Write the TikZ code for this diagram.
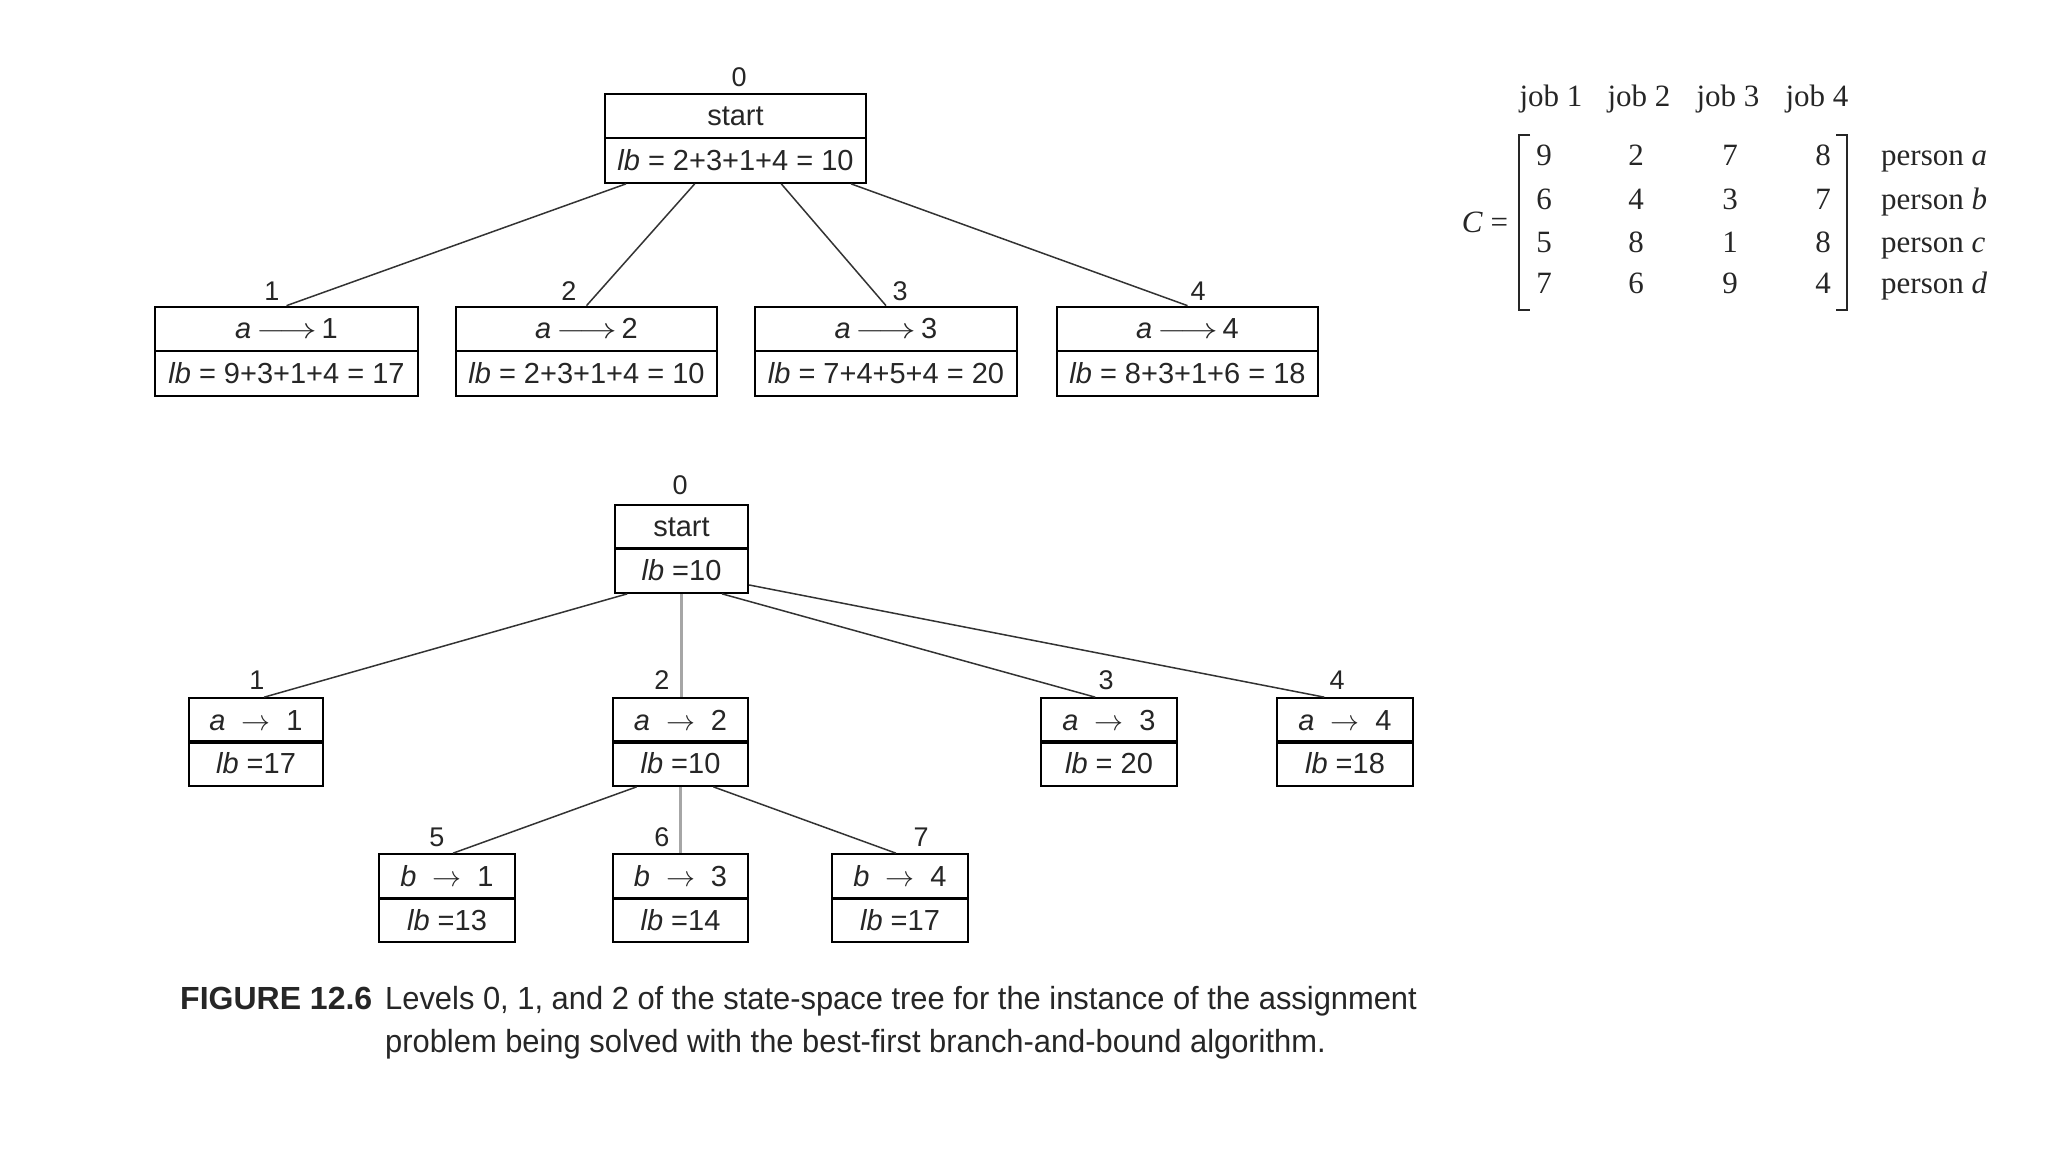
\RequirePackage{fix-cm}
\documentclass[tikz,border=0pt]{standalone}
\usepackage{fontspec}
\setmainfont{Liberation Sans}
\newfontfamily\mserif{Liberation Serif}
\newfontfamily\capnarrow[FakeStretch=0.965]{Liberation Sans}
\usetikzlibrary{calc}
\newcommand{\larr}{\,\scalebox{1.3}[1]{$\longrightarrow$}\,}
\newcommand{\sarr}{\hspace{0.55em}$\rightarrow$\hspace{0.55em}}
\tikzset{
 cell/.style={draw=black, line width=2.2pt, minimum height=44.5pt, inner sep=0pt, text=black!85, font=\fontsize{29}{34}\selectfont},
 lvl/.style={text=black!85, font=\fontsize{27}{32}\selectfont, inner sep=0pt},
 edge/.style={draw=black!80, line width=1.5pt},
 grayedge/.style={draw=black!35, line width=3.5pt},
 mtx/.style={font=\mserif\fontsize{31}{36}\selectfont, anchor=base, inner sep=0pt, text=black!85},
 mlabel/.style={mtx, anchor=base west},
 brk/.style={draw=black!85, line width=2.5pt},
 captxt/.style={anchor=base west, inner sep=0pt, text=black!85},
}
\begin{document}
\begin{tikzpicture}[x=1pt,y=-1pt]
\path[use as bounding box, fill=white] (0,0) rectangle (2048,1152);

% ---------- top tree ----------
\node[cell, minimum width=261pt] (t0a) at (735.5,116) {start};
\node[cell, minimum width=261pt] (t0b) at (735.5,160.5) {\textit{lb} = 2+3+1+4 = 10};
\node[lvl] (tl0) at (739,77) {0};

\node[cell, minimum width=263pt] (t1a) at (286.5,329) {\textit{a}\larr 1};
\node[cell, minimum width=263pt] (t1b) at (286.5,373.5) {\textit{lb} = 9+3+1+4 = 17};
\node[lvl] (tl1) at (272,291) {1};

\node[cell, minimum width=261pt] (t2a) at (586.5,329) {\textit{a}\larr 2};
\node[cell, minimum width=261pt] (t2b) at (586.5,373.5) {\textit{lb} = 2+3+1+4 = 10};
\node[lvl] (tl2) at (569,291) {2};

\node[cell, minimum width=262pt] (t3a) at (886,329) {\textit{a}\larr 3};
\node[cell, minimum width=262pt] (t3b) at (886,373.5) {\textit{lb} = 7+4+5+4 = 20};
\node[lvl] (tl3) at (900,291) {3};

\node[cell, minimum width=261pt] (t4a) at (1187.5,329) {\textit{a}\larr 4};
\node[cell, minimum width=261pt] (t4b) at (1187.5,373.5) {\textit{lb} = 8+3+1+6 = 18};
\node[lvl] (tl4) at (1198,291) {4};

\draw[edge] ($(t0b.south west)!0.084!(t0b.south east)$) -- (t1a.north);
\draw[edge] ($(t0b.south west)!0.345!(t0b.south east)$) -- (t2a.north);
\draw[edge] ($(t0b.south west)!0.674!(t0b.south east)$) -- (t3a.north);
\draw[edge] ($(t0b.south west)!0.939!(t0b.south east)$) -- (t4a.north);

% ---------- bottom tree ----------
\node[cell, minimum width=133pt] (b0a) at (681.5,527) {start};
\node[cell, minimum width=133pt] (b0b) at (681.5,570.5) {\textit{lb} =10};
\node[lvl] (bl0) at (680,485) {0};

\node[cell, minimum width=134pt] (c1a) at (256,720.5) {\textit{a}\sarr 1};
\node[cell, minimum width=134pt] (c1b) at (256,763.5) {\textit{lb} =17};
\node[lvl] (bl1) at (257,680) {1};

\node[cell, minimum width=135pt] (c2a) at (680.5,720.5) {\textit{a}\sarr 2};
\node[cell, minimum width=135pt] (c2b) at (680.5,763.5) {\textit{lb} =10};
\node[lvl] (bl2) at (662,680) {2};

\node[cell, minimum width=136pt] (c3a) at (1109,720.5) {\textit{a}\sarr 3};
\node[cell, minimum width=136pt] (c3b) at (1109,763.5) {\textit{lb} = 20};
\node[lvl] (bl3) at (1106,680) {3};

\node[cell, minimum width=136pt] (c4a) at (1345,720.5) {\textit{a}\sarr 4};
\node[cell, minimum width=136pt] (c4b) at (1345,763.5) {\textit{lb} =18};
\node[lvl] (bl4) at (1337,680) {4};

\node[cell, minimum width=136pt] (c5a) at (447,876.5) {\textit{b}\sarr 1};
\node[cell, minimum width=136pt] (c5b) at (447,920) {\textit{lb} =13};
\node[lvl] (bl5) at (437,837) {5};

\node[cell, minimum width=135pt] (c6a) at (680.5,876.5) {\textit{b}\sarr 3};
\node[cell, minimum width=135pt] (c6b) at (680.5,920) {\textit{lb} =14};
\node[lvl] (bl6) at (662,837) {6};

\node[cell, minimum width=136pt] (c7a) at (900,876.5) {\textit{b}\sarr 4};
\node[cell, minimum width=136pt] (c7b) at (900,920) {\textit{lb} =17};
\node[lvl] (bl7) at (921,837) {7};

\draw[edge] ($(b0b.south west)!0.098!(b0b.south east)$) -- ($(c1a.north west)!0.56!(c1a.north east)$);
\draw[grayedge] (b0b.south) -- (b0b.south |- c2a.north);
\draw[edge] ($(b0b.south west)!0.80!(b0b.south east)$) -- ($(c3a.north west)!0.40!(c3a.north east)$);
\draw[edge] ($(b0b.north east)!0.81!(b0b.south east)$) -- ($(c4a.north west)!0.35!(c4a.north east)$);
\draw[edge] ($(c2b.south west)!0.18!(c2b.south east)$) -- ($(c5a.north west)!0.544!(c5a.north east)$);
\draw[grayedge] (c2b.south) -- (c2b.south |- c6a.north);
\draw[edge] ($(c2b.south west)!0.74!(c2b.south east)$) -- ($(c7a.north west)!0.47!(c7a.north east)$);

% ---------- cost matrix ----------
\node[mtx] (j1) at (1551,106) {job 1};
\node[mtx] (j2) at (1639,106) {job 2};
\node[mtx] (j3) at (1728,106) {job 3};
\node[mtx] (j4) at (1817,106) {job 4};

\node[mtx] (m11) at (1544,165.5) {9};
\node[mtx] (m12) at (1636,165.5) {2};
\node[mtx] (m13) at (1730,165.5) {7};
\node[mtx] (m14) at (1823,165.5) {8};
\node[mtx] (m21) at (1544,209.5) {6};
\node[mtx] (m22) at (1636,209.5) {4};
\node[mtx] (m23) at (1730,209.5) {3};
\node[mtx] (m24) at (1823,209.5) {7};
\node[mtx] (m31) at (1544,252.5) {5};
\node[mtx] (m32) at (1636,252.5) {8};
\node[mtx] (m33) at (1730,252.5) {1};
\node[mtx] (m34) at (1823,252.5) {8};
\node[mtx] (m41) at (1544,293.5) {7};
\node[mtx] (m42) at (1636,293.5) {6};
\node[mtx] (m43) at (1730,293.5) {9};
\node[mtx] (m44) at (1823,293.5) {4};

\node[mlabel] (pa) at (1881,165.5) {person \textit{a}};
\node[mlabel] (pb) at (1881,209.5) {person \textit{b}};
\node[mlabel] (pc) at (1881,252.5) {person \textit{c}};
\node[mlabel] (pd) at (1881,293.5) {person \textit{d}};

\node[mtx] (ceq) at (1485,232) {\textit{C} =};

\draw[brk] (1530,135) -- (1519,135) -- (1519,310) -- (1530,310);
\draw[brk] (1836,135) -- (1847,135) -- (1847,310) -- (1836,310);

% ---------- caption ----------
\node[captxt, font=\fontsize{32}{38}\selectfont\bfseries] (fig) at (180,1009) {FIGURE 12.6};
\node[captxt, font=\capnarrow\fontsize{32}{38}\selectfont] (cl1) at (385,1009) {Levels 0, 1, and 2 of the state-space tree for the instance of the assignment};
\node[captxt, font=\capnarrow\fontsize{32}{38}\selectfont] (cl2) at (385,1052) {problem being solved with the best-first branch-and-bound algorithm.};
\end{tikzpicture}
\end{document}
